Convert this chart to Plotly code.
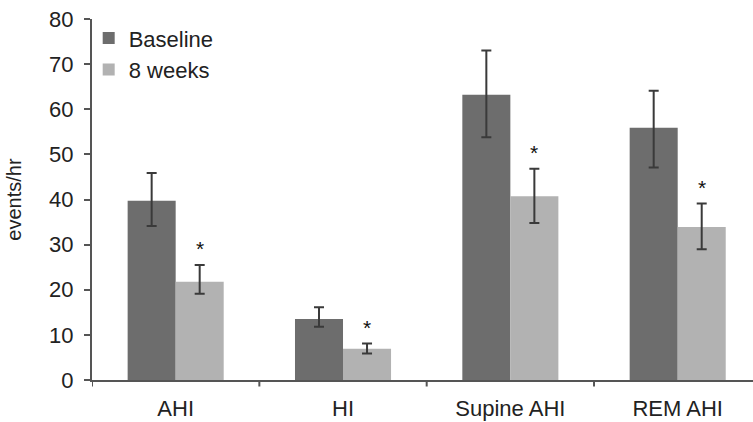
import plotly.graph_objects as go

categories = ["AHI", "HI", "Supine AHI", "REM AHI"]
baseline = [39.7, 13.5, 63.2, 55.9]
baseline_err_plus = [6.2, 2.6, 9.8, 8.2]
baseline_err_minus = [5.6, 1.7, 9.4, 8.8]
weeks8 = [21.8, 6.9, 40.7, 33.9]
weeks8_err_plus = [3.7, 1.2, 6.1, 5.2]
weeks8_err_minus = [2.7, 1.0, 5.9, 4.9]
significant = [True, True, True, True]
y_ticks = [0, 10, 20, 30, 40, 50, 60, 70, 80]

FONT = "Liberation Sans, Arial, sans-serif"
bargap = 0.426

fig = go.Figure()
fig.add_trace(go.Bar(
    name="Baseline", x=categories, y=baseline,
    marker=dict(color="#6d6d6d", line=dict(width=0)),
    error_y=dict(type="data", array=baseline_err_plus, arrayminus=baseline_err_minus,
                 color="#3a3a3a", thickness=2, width=5),
    legendgroup="a",
))
fig.add_trace(go.Bar(
    name="8 weeks", x=categories, y=weeks8,
    marker=dict(color="#b2b2b2", line=dict(width=0)),
    error_y=dict(type="data", array=weeks8_err_plus, arrayminus=weeks8_err_minus,
                 color="#3a3a3a", thickness=2, width=5),
    legendgroup="b",
))

offset = (1 - bargap) / 4
for i, (v, e, s) in enumerate(zip(weeks8, weeks8_err_plus, significant)):
    if s:
        fig.add_annotation(x=i + offset, y=v + e, xref="x", yref="y", text="*",
                           showarrow=False, yshift=16,
                           font=dict(family=FONT, size=21, color="#111"))

fig.update_layout(
    width=753, height=422,
    margin=dict(l=92, r=0, t=19, b=42, autoexpand=False),
    paper_bgcolor="white", plot_bgcolor="white",
    barmode="group", bargap=bargap, bargroupgap=0,
    font=dict(family=FONT, size=22, color="#222"),
    showlegend=True,
    legend=dict(x=-0.005, y=1.005, xanchor="left", yanchor="top",
                bgcolor="rgba(0,0,0,0)", font=dict(size=22, family=FONT, color="#222"),
                tracegroupgap=0, traceorder="grouped", itemwidth=30),
    xaxis=dict(
        type="category", range=[-0.5, 3.45], automargin=False,
        showline=True, linecolor="#555", linewidth=2,
        ticks="outside", ticklen=8, tickcolor="rgba(0,0,0,0)",
        showgrid=False, zeroline=False,
        tickfont=dict(size=22, family=FONT, color="#222"),
    ),
    yaxis=dict(
        range=[0, 80], tickvals=y_ticks, automargin=False,
        showline=True, linecolor="#555", linewidth=2,
        ticks="outside", ticklen=6, tickwidth=2, tickcolor="#555",
        ticklabelstandoff=6,
        showgrid=False, zeroline=False,
        tickfont=dict(size=22, family=FONT, color="#222"),
        title=dict(text="events/hr", font=dict(size=20, family=FONT, color="#222"), standoff=22),
    ),
)

# category boundary ticks on x axis (between groups)
for b in [-0.5, 0.5, 1.5, 2.5]:
    fig.add_shape(type="line", xref="x", yref="paper", x0=b, x1=b, y0=0, y1=-0.018,
                  line=dict(color="#555", width=2))

fig.write_html("out.html", config={"displayModeBar": False},
               post_script="document.body.style.margin='0';")
